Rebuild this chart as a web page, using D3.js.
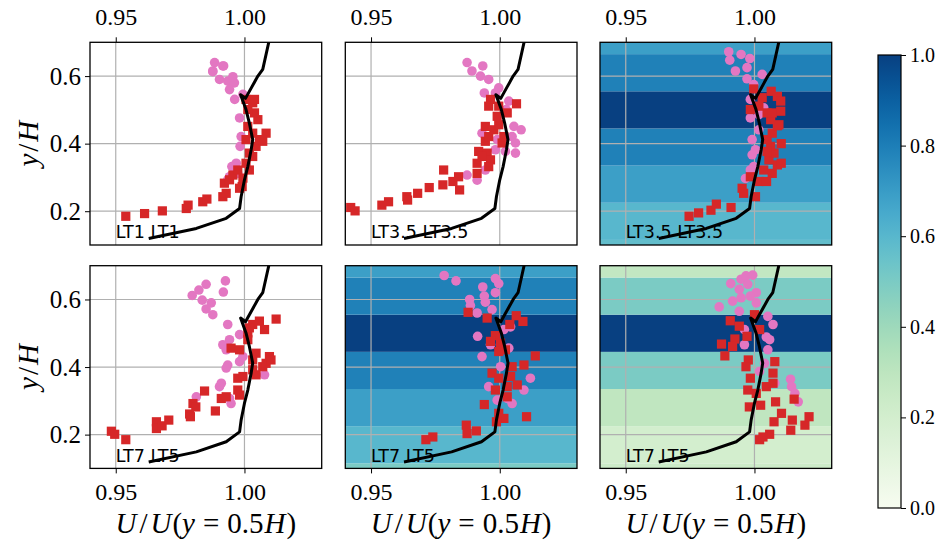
<!DOCTYPE html>
<html>
<head>
<meta charset="utf-8">
<script src="https://cdn.jsdelivr.net/npm/d3@7"></script>
<style>
  body { margin: 0; background: #fff; }
  svg { display: block; }
</style>
</head>
<body>
<svg id="chart" width="947" height="544"></svg>
<script>
// ---- data ----
const xTicks = [0.95, 1.00];
const yTicks = [0.2, 0.4, 0.6];
const cbarTicks = [0.0, 0.2, 0.4, 0.6, 0.8, 1.0];

// reference profile (black line), same in every panel
const profile = [
  [0.9628, 0.119], [0.9813, 0.149], [0.9929, 0.179], [0.9981, 0.208],
  [0.9987, 0.243], [1.0000, 0.293], [1.0013, 0.332], [1.0026, 0.382],
  [1.0032, 0.412], [1.0019, 0.461], [1.0006, 0.501], [0.9985, 0.545],
  [1.0004, 0.534], [1.0052, 0.600], [1.0071, 0.620], [1.0097, 0.709]
];

// horizontal bands behind panels 3, 5, 6 (centre heights, colour values)
const bandCenters = [0.06, 0.17, 0.28, 0.39, 0.50, 0.61, 0.72];
const bandHeight = 0.11;
const bands3 = [0.57, 0.60, 0.69, 0.79, 1.00, 0.79, 0.69];
const bands5 = [0.50, 0.60, 0.69, 0.79, 1.00, 0.79, 0.69];
const bands6 = [0.24, 0.20, 0.29, 0.50, 1.00, 0.50, 0.28];

const labels = ['LT1 LT1', 'LT3.5 LT3.5', 'LT3.5 LT3.5', 'LT7 LT5', 'LT7 LT5', 'LT7 LT5'];

const pink1 = [
  [0.9884, 0.640], [0.9877, 0.615], [0.9919, 0.630], [0.9903, 0.590], [0.9935, 0.585],
  [0.9961, 0.580], [0.9942, 0.560], [0.9955, 0.598], [0.9962, 0.531], [0.9994, 0.546],
  [0.9981, 0.476], [0.9987, 0.421], [0.9983, 0.392], [0.9968, 0.342], [0.9951, 0.332],
  [0.9942, 0.302], [0.9974, 0.312], [0.9935, 0.293], [0.9916, 0.630], [0.9877, 0.613]
];
const red1 = [
  [0.9539, 0.185], [0.9612, 0.193], [0.9681, 0.201], [0.9774, 0.208], [0.9781, 0.218],
  [0.9838, 0.228], [0.9854, 0.236], [0.9916, 0.243], [0.9929, 0.253], [0.9922, 0.283],
  [0.9942, 0.293], [0.9955, 0.307], [0.9974, 0.322], [0.9991, 0.273], [0.9994, 0.298],
  [1.0019, 0.322], [1.0006, 0.342], [1.0032, 0.362], [1.0045, 0.392], [1.0071, 0.407],
  [1.0084, 0.431], [1.0032, 0.431], [1.0013, 0.451], [1.0052, 0.471], [1.0039, 0.491],
  [1.0013, 0.501], [1.0032, 0.521], [1.0039, 0.531], [1.0006, 0.531], [1.0058, 0.412],
  [1.0019, 0.372], [1.0006, 0.412], [0.9981, 0.268]
];

const pink2 = [
  [0.9873, 0.640], [0.9892, 0.615], [0.9934, 0.630], [0.9925, 0.600], [0.9957, 0.590],
  [0.9996, 0.565], [0.9940, 0.550], [0.9983, 0.550], [1.0035, 0.526], [1.0025, 0.501],
  [1.0055, 0.451], [1.0083, 0.441], [0.9931, 0.431], [1.0048, 0.421], [1.0061, 0.402],
  [1.0061, 0.372], [1.0022, 0.377], [0.9983, 0.382], [0.9944, 0.322], [0.9912, 0.292],
  [0.9873, 0.307], [0.9990, 0.412]
];
const red2 = [
  [0.9421, 0.211], [0.9438, 0.201], [0.9542, 0.218], [0.9568, 0.228], [0.9639, 0.243],
  [0.9642, 0.233], [0.9681, 0.253], [0.9726, 0.270], [0.9779, 0.278], [0.9782, 0.322],
  [0.9818, 0.288], [0.9840, 0.302], [0.9844, 0.263], [0.9912, 0.312], [0.9912, 0.342],
  [0.9918, 0.377], [0.9951, 0.372], [0.9964, 0.352], [0.9957, 0.332], [0.9944, 0.407],
  [0.9957, 0.421], [0.9944, 0.451], [0.9977, 0.441], [0.9996, 0.456], [1.0009, 0.402],
  [1.0016, 0.421], [0.9990, 0.481], [1.0029, 0.491], [0.9996, 0.511], [0.9957, 0.511],
  [0.9964, 0.531], [1.0065, 0.518], [0.9931, 0.362]
];

const pink3 = [
  [0.9900, 0.672], [0.9948, 0.664], [0.9904, 0.647], [0.9982, 0.652], [0.9971, 0.625],
  [0.9926, 0.615], [0.9971, 0.592], [1.0030, 0.605], [0.9997, 0.575], [0.9984, 0.531],
  [0.9991, 0.501], [0.9984, 0.476], [1.0017, 0.486], [1.0036, 0.506], [0.9991, 0.412],
  [1.0004, 0.382], [0.9991, 0.367], [0.9997, 0.332], [0.9965, 0.297], [0.9984, 0.322],
  [1.0017, 0.441]
];
const red3 = [
  [0.9746, 0.185], [0.9783, 0.195], [0.9831, 0.203], [0.9852, 0.221], [0.9909, 0.211],
  [0.9958, 0.253], [0.9952, 0.268], [1.0004, 0.243], [0.9984, 0.302], [1.0017, 0.288],
  [1.0047, 0.288], [1.0036, 0.322], [1.0069, 0.312], [1.0089, 0.337], [1.0104, 0.342],
  [1.0056, 0.352], [1.0076, 0.372], [1.0063, 0.392], [1.0104, 0.400], [1.0049, 0.412],
  [1.0069, 0.431], [1.0089, 0.453], [1.0063, 0.471], [1.0095, 0.456], [1.0049, 0.491],
  [1.0069, 0.491], [1.0102, 0.496], [1.0017, 0.511], [0.9984, 0.501], [1.0030, 0.536],
  [0.9997, 0.562], [1.0065, 0.555], [1.0089, 0.540], [1.0102, 0.526], [1.0049, 0.377]
];

const pink4 = [
  [0.9797, 0.612], [0.9823, 0.628], [0.9851, 0.645], [0.9926, 0.655], [0.9918, 0.622],
  [0.9836, 0.598], [0.9871, 0.590], [0.9851, 0.572], [0.9877, 0.555], [0.9935, 0.526],
  [0.9981, 0.496], [0.9942, 0.481], [0.9916, 0.466], [0.9929, 0.451], [0.9935, 0.406],
  [0.9929, 0.397], [0.9981, 0.416], [0.9910, 0.352], [0.9903, 0.342], [0.9942, 0.307],
  [0.9948, 0.292], [0.9813, 0.312], [1.0078, 0.377], [0.9994, 0.431]
];
const red4 = [
  [0.9483, 0.210], [0.9496, 0.201], [0.9539, 0.185], [0.9658, 0.238], [0.9658, 0.218],
  [0.9680, 0.226], [0.9706, 0.243], [0.9787, 0.261], [0.9790, 0.253], [0.9800, 0.292],
  [0.9811, 0.282], [0.9845, 0.329], [0.9887, 0.270], [0.9910, 0.307], [0.9929, 0.312],
  [0.9974, 0.332], [0.9974, 0.367], [0.9994, 0.372], [0.9981, 0.317], [0.9948, 0.456],
  [0.9981, 0.451], [1.0013, 0.501], [1.0013, 0.481], [1.0045, 0.441], [1.0032, 0.421],
  [1.0032, 0.392], [1.0045, 0.377], [1.0071, 0.401], [1.0084, 0.411], [1.0097, 0.431],
  [1.0103, 0.421], [1.0032, 0.526], [1.0058, 0.536], [1.0078, 0.511], [1.0123, 0.542],
  [1.0019, 0.516]
];

const pink5 = [
  [0.9784, 0.671], [0.9830, 0.655], [0.9934, 0.637], [0.9940, 0.610], [0.9983, 0.662],
  [0.9996, 0.647], [0.9983, 0.620], [0.9883, 0.600], [0.9886, 0.582], [0.9944, 0.592],
  [0.9970, 0.570], [0.9912, 0.560], [1.0042, 0.519], [0.9914, 0.491], [0.9964, 0.466],
  [1.0035, 0.456], [0.9931, 0.431], [1.0003, 0.401], [1.0119, 0.367], [0.9957, 0.342],
  [1.0094, 0.332], [0.9990, 0.302], [1.0029, 0.307], [1.0048, 0.292], [1.0016, 0.511]
];
const red5 = [
  [0.9713, 0.185], [0.9740, 0.193], [0.9870, 0.228], [0.9873, 0.203], [0.9909, 0.211],
  [0.9940, 0.289], [0.9877, 0.562], [0.9951, 0.545], [1.0064, 0.552], [1.0090, 0.535],
  [1.0039, 0.526], [0.9983, 0.493], [1.0003, 0.471], [0.9964, 0.476], [0.9996, 0.446],
  [1.0022, 0.451], [1.0048, 0.401], [1.0094, 0.406], [1.0138, 0.433], [0.9970, 0.382],
  [0.9996, 0.367], [1.0042, 0.372], [1.0068, 0.347], [0.9983, 0.332], [1.0029, 0.342],
  [0.9996, 0.263], [1.0016, 0.248], [0.9987, 0.238], [1.0104, 0.253], [1.0029, 0.312]
];

const pink6 = [
  [0.9908, 0.647], [0.9948, 0.660], [0.9967, 0.670], [0.9993, 0.672], [0.9974, 0.645],
  [0.9941, 0.630], [1.0007, 0.620], [0.9948, 0.605], [0.9984, 0.610], [0.9915, 0.595],
  [0.9863, 0.578], [1.0007, 0.590], [0.9941, 0.565], [1.0052, 0.550], [1.0072, 0.526],
  [1.0046, 0.489], [1.0059, 0.481], [0.9961, 0.466], [1.0052, 0.451], [1.0039, 0.411],
  [1.0020, 0.387], [1.0079, 0.352], [1.0140, 0.364], [1.0144, 0.342], [1.0157, 0.322],
  [1.0170, 0.297], [0.9961, 0.511]
];
const red6 = [
  [0.9906, 0.537], [0.9941, 0.521], [0.9971, 0.491], [1.0000, 0.555], [1.0020, 0.511],
  [0.9924, 0.483], [0.9872, 0.468], [0.9915, 0.461], [0.9885, 0.433], [0.9976, 0.421],
  [0.9967, 0.401], [1.0079, 0.416], [0.9984, 0.367], [1.0072, 0.382], [1.0046, 0.342],
  [1.0072, 0.352], [1.0007, 0.322], [1.0082, 0.297], [1.0024, 0.287], [0.9980, 0.282],
  [1.0105, 0.263], [1.0154, 0.305], [1.0076, 0.238], [1.0147, 0.243], [1.0141, 0.213],
  [1.0196, 0.228], [1.0212, 0.253], [1.0020, 0.185], [1.0059, 0.201], [1.0033, 0.193],
  [0.9974, 0.332]
];

// ---- layout ----
const colLeft = [90, 345.3, 600];
const rowTop = [42.3, 265.7];
const pw = 231.7, ph = 202.7;
const pinkColor = '#e377c2', redColor = '#d62728';
const serif = "'Liberation Serif', 'DejaVu Serif', serif";

const panels = [
  { col: 0, row: 0, pink: pink1, red: red1, bands: null },
  { col: 1, row: 0, pink: pink2, red: red2, bands: null },
  { col: 2, row: 0, pink: pink3, red: red3, bands: bands3 },
  { col: 0, row: 1, pink: pink4, red: red4, bands: null },
  { col: 1, row: 1, pink: pink5, red: red5, bands: bands5 },
  { col: 2, row: 1, pink: pink6, red: red6, bands: bands6 }
];

const svg = d3.select('#chart');
const color = d3.scaleSequential(d3.interpolateGnBu).domain([0, 1]);

panels.forEach((p, i) => {
  const left = colLeft[p.col], top = rowTop[p.row];
  const x = d3.scaleLinear().domain([0.94, 1.03]).range([left, left + pw]);
  const y = d3.scaleLinear().domain([0.1, 0.7]).range([top + ph, top]);

  const clipId = 'clip' + i;
  svg.append('clipPath').attr('id', clipId)
    .append('rect').attr('x', left).attr('y', top).attr('width', pw).attr('height', ph);

  const g = svg.append('g');
  const inner = g.append('g').attr('clip-path', `url(#${clipId})`);

  if (p.bands) {
    inner.selectAll('rect.band')
      .data(bandCenters.map((c, k) => ({ c, v: p.bands[k] })))
      .join('rect')
      .attr('class', 'band')
      .attr('x', left)
      .attr('width', pw)
      .attr('y', d => y(d.c + bandHeight / 2))
      .attr('height', d => y(d.c - bandHeight / 2) - y(d.c + bandHeight / 2))
      .attr('fill', d => color(d.v));
  }

  // grid
  inner.selectAll('line.gx').data(xTicks).join('line')
    .attr('x1', d => x(d)).attr('x2', d => x(d))
    .attr('y1', top).attr('y2', top + ph)
    .attr('stroke', '#b0b0b0').attr('stroke-width', 1.2);
  inner.selectAll('line.gy').data(yTicks).join('line')
    .attr('y1', d => y(d)).attr('y2', d => y(d))
    .attr('x1', left).attr('x2', left + pw)
    .attr('stroke', '#b0b0b0').attr('stroke-width', 1.2);

  inner.selectAll('circle').data(p.pink).join('circle')
    .attr('cx', d => x(d[0])).attr('cy', d => y(d[1]))
    .attr('r', 4.8).attr('fill', pinkColor);

  inner.selectAll('rect.sq').data(p.red).join('rect')
    .attr('class', 'sq')
    .attr('x', d => x(d[0]) - 4.6).attr('y', d => y(d[1]) - 4.6)
    .attr('width', 9.2).attr('height', 9.2)
    .attr('fill', redColor);

  inner.append('text')
    .attr('x', x(0.95)).attr('y', y(0.12))
    .attr('font-family', "'DejaVu Sans', sans-serif")
    .attr('font-size', 17.5)
    .attr('fill', '#000')
    .text(labels[i]);

  inner.append('path')
    .datum(profile)
    .attr('d', d3.line().x(d => x(d[0])).y(d => y(d[1])))
    .attr('fill', 'none').attr('stroke', '#000').attr('stroke-width', 3)
    .attr('stroke-linejoin', 'round');

  // frame
  g.append('rect')
    .attr('x', left).attr('y', top).attr('width', pw).attr('height', ph)
    .attr('fill', 'none').attr('stroke', '#000').attr('stroke-width', 1.3);

  // x axis: top row on top, bottom row on bottom
  if (p.row === 0) {
    const ax = g.append('g').attr('transform', `translate(0,${top})`)
      .call(d3.axisTop(x).tickValues(xTicks).tickFormat(d3.format('.2f')).tickSizeOuter(0).tickSize(5).tickPadding(12));
    ax.select('.domain').remove();
    ax.selectAll('text').attr('font-family', serif).attr('font-size', 24).attr('fill', '#000');
  } else {
    const ax = g.append('g').attr('transform', `translate(0,${top + ph})`)
      .call(d3.axisBottom(x).tickValues(xTicks).tickFormat(d3.format('.2f')).tickSizeOuter(0).tickSize(5).tickPadding(10));
    ax.select('.domain').remove();
    ax.selectAll('text').attr('font-family', serif).attr('font-size', 24).attr('fill', '#000');

    const xl = g.append('text')
      .attr('x', left + pw / 2).attr('y', 533)
      .attr('text-anchor', 'middle')
      .attr('font-family', serif).attr('font-size', 29);
    xl.append('tspan').attr('font-style', 'italic').text('U');
    xl.append('tspan').attr('dx', 3).text('/');
    xl.append('tspan').attr('dx', 3).attr('font-style', 'italic').text('U');
    xl.append('tspan').attr('dx', 1).text('(');
    xl.append('tspan').attr('font-style', 'italic').text('y');
    xl.append('tspan').attr('dx', 8).text('=');
    xl.append('tspan').attr('dx', 8).text('0.5');
    xl.append('tspan').attr('dx', 1).attr('font-style', 'italic').text('H');
    xl.append('tspan').attr('dx', 1).text(')');
  }

  if (p.col === 0) {
    const ay = g.append('g').attr('transform', `translate(${left},0)`)
      .call(d3.axisLeft(y).tickValues(yTicks).tickFormat(d3.format('.1f')).tickSizeOuter(0).tickSize(5).tickPadding(4));
    ay.select('.domain').remove();
    ay.selectAll('text').attr('font-family', serif).attr('font-size', 25).attr('fill', '#000');

    const yl = g.append('text')
      .attr('transform', `translate(38,${top + ph / 2}) rotate(-90)`)
      .attr('text-anchor', 'middle')
      .attr('font-family', serif).attr('font-size', 29);
    yl.append('tspan').attr('font-style', 'italic').text('y');
    yl.append('tspan').attr('dx', 2).text('/');
    yl.append('tspan').attr('dx', 2).attr('font-style', 'italic').text('H');
  }
});

// ---- colorbar ----
const cbX = 878, cbW = 23, cbTop = 55, cbBottom = 508;
const grad = svg.append('defs').append('linearGradient')
  .attr('id', 'cbgrad').attr('x1', 0).attr('y1', 1).attr('x2', 0).attr('y2', 0);
d3.range(0, 1.0001, 0.05).forEach(t => {
  grad.append('stop').attr('offset', t).attr('stop-color', color(t));
});
svg.append('rect')
  .attr('x', cbX).attr('y', cbTop).attr('width', cbW).attr('height', cbBottom - cbTop)
  .attr('fill', 'url(#cbgrad)').attr('stroke', '#000').attr('stroke-width', 1.2);

const cy = d3.scaleLinear().domain([0, 1]).range([cbBottom, cbTop]);
const cax = svg.append('g').attr('transform', `translate(${cbX + cbW},0)`)
  .call(d3.axisRight(cy).tickValues(cbarTicks).tickFormat(d3.format('.1f')).tickSizeOuter(0).tickSize(5).tickPadding(4));
cax.select('.domain').remove();
cax.selectAll('text').attr('font-family', serif).attr('font-size', 20).attr('fill', '#000');
</script>
</body>
</html>
